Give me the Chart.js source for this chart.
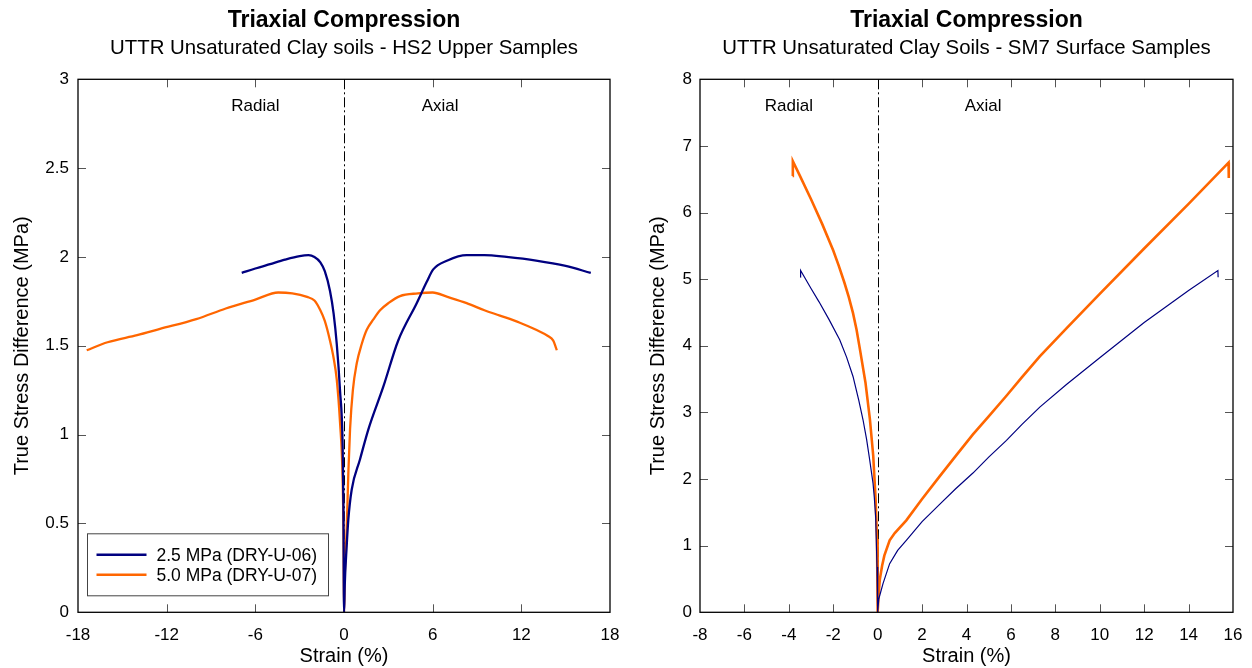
<!DOCTYPE html>
<html><head><meta charset="utf-8">
<script src="https://cdn.jsdelivr.net/npm/chart.js@4/dist/chart.umd.min.js"></script>
<style>
html,body{margin:0;padding:0;background:#fff;width:1252px;height:668px;overflow:hidden}
.box{position:absolute;top:0;width:626px;height:668px}
</style></head><body>
<div class="box" style="left:0"><canvas id="c1" width="626" height="668"></canvas></div>
<div class="box" style="left:626px"><canvas id="c2" width="626" height="668"></canvas></div>
<script>
// ---------- Data: HS2 Upper Samples (left) ----------
const hs2Label25 = '2.5 MPa (DRY-U-06)';
const hs2Label50 = '5.0 MPa (DRY-U-07)';
const hs2RadialStrain25 = [-6.92,-6,-5,-4,-3,-2.4,-2.0,-1.6,-1.3,-0.95,-0.7,-0.49,-0.27,-0.09,-0.04,0];
const hs2RadialStress25 = [1.91,1.935,1.96,1.985,2.005,2.01,2.0,1.97,1.92,1.81,1.68,1.51,1.25,0.93,0.6,0];
const hs2AxialStrain25 = [0.01,0.05,0.18,0.29,0.52,1.08,1.65,2.66,3.67,4.92,5.6,6.04,7.0,8.3,9.5,11,13,15,16.7];
const hs2AxialStress25 = [0,0.15,0.37,0.52,0.69,0.86,1.03,1.27,1.53,1.74,1.86,1.93,1.98,2.01,2.01,2.0,1.98,1.95,1.91];
const hs2RadialStrain50 = [-17.41,-16,-14,-12.45,-10,-8,-6,-4.45,-3.5,-2.5,-2.0,-1.6,-1.3,-0.95,-0.7,-0.49,-0.27,-0.09,-0.03,0];
const hs2RadialStress50 = [1.475,1.52,1.56,1.595,1.65,1.71,1.76,1.80,1.795,1.775,1.755,1.7,1.64,1.53,1.43,1.31,1.07,0.74,0.4,0];
const hs2AxialStrain50 = [0.01,0.05,0.18,0.3,0.41,0.6,0.86,1.2,1.54,2.0,2.44,3.0,3.79,5,6.0,7,8.3,9.5,10.55,11.9,13.0,13.8,14.15,14.3,14.4];
const hs2AxialStress50 = [0,0.2,0.46,0.8,1.03,1.25,1.40,1.51,1.59,1.65,1.70,1.74,1.78,1.795,1.80,1.775,1.74,1.70,1.67,1.63,1.59,1.555,1.53,1.50,1.475];
const hs2XTicks = [-18,-12,-6,0,6,12,18];
const hs2YTicks = [0,0.5,1,1.5,2,2.5,3];

// ---------- Data: SM7 Surface Samples (right) ----------
const sm7RadialStrain25 = [-3.48,-3.47,-3.0,-2.64,-2.2,-1.71,-1.4,-1.11,-0.85,-0.66,-0.5,-0.36,-0.21,-0.15,-0.09,-0.03,0];
const sm7RadialStress25 = [5.03,5.13,4.86,4.66,4.40,4.09,3.83,3.54,3.18,2.89,2.6,2.29,1.94,1.72,1.43,0.68,0];
const sm7AxialStrain25 = [0,0.05,0.24,0.54,0.9,1.29,2.0,2.79,3.5,4.29,5.0,5.8,6.5,7.3,8.5,10,12,14,15.32,15.33];
const sm7AxialStress25 = [0,0.2,0.43,0.73,0.93,1.08,1.36,1.62,1.85,2.09,2.33,2.58,2.82,3.08,3.42,3.82,4.35,4.83,5.13,5.03];
const sm7RadialStrain50 = [-3.83,-3.82,-3.5,-3.0,-2.5,-2.0,-1.75,-1.5,-1.3,-1.11,-0.95,-0.8,-0.55,-0.35,-0.2,-0.09,-0.03,0];
const sm7RadialStress50 = [6.55,6.77,6.55,6.2,5.83,5.43,5.2,4.95,4.73,4.49,4.24,3.95,3.45,2.9,2.35,1.68,1.1,0];
const sm7AxialStrain50 = [0,0.05,0.1,0.2,0.3,0.54,0.77,1.29,2.0,2.79,3.5,4.29,5.0,5.8,6.5,7.3,8.5,10,12,14,15.8,15.81];
const sm7AxialStress50 = [0,0.3,0.5,0.7,0.85,1.08,1.19,1.38,1.70,2.04,2.34,2.67,2.94,3.25,3.53,3.84,4.26,4.78,5.46,6.13,6.75,6.52];
const sm7XTicks = [-8,-6,-4,-2,0,2,4,6,8,10,12,14,16];
const sm7YTicks = [0,1,2,3,4,5,6,7,8];

const NAVY = '#000080';
const ORANGE = '#ff6600';
Chart.defaults.font.family = "'Liberation Sans', Arial, sans-serif";
Chart.defaults.color = '#000';

function pts(xs, ys){ return xs.map((x,i)=>({x:x, y:ys[i]})); }

const framePlugin = {
  id: 'frame',
  beforeDatasetsDraw(chart, args, o){
    const {ctx, chartArea:a} = chart; const x = chart.scales.x;
    const px = Math.round(x.getPixelForValue(0)) + 0.5;
    ctx.save(); ctx.strokeStyle = '#000'; ctx.lineWidth = 1; ctx.setLineDash([10,3,2,3]);
    ctx.beginPath(); ctx.moveTo(px, a.top); ctx.lineTo(px, a.bottom); ctx.stroke(); ctx.restore();
  },
  afterDatasetsDraw(chart, args, o){
    const {ctx, chartArea:a} = chart; const x = chart.scales.x, y = chart.scales.y;
    ctx.save();
    ctx.strokeStyle = '#555'; ctx.lineWidth = 1; const L = 8;
    ctx.beginPath();
    x.ticks.forEach(t=>{
      if (t.value === x.min || t.value === x.max || t.value === 0) return;
      const p = Math.round(x.getPixelForValue(t.value)) + 0.5;
      ctx.moveTo(p, a.bottom); ctx.lineTo(p, a.bottom - L);
      ctx.moveTo(p, a.top); ctx.lineTo(p, a.top + L);
    });
    y.ticks.forEach(t=>{
      if (t.value === y.min || t.value === y.max) return;
      const p = Math.round(y.getPixelForValue(t.value)) + 0.5;
      ctx.moveTo(a.left, p); ctx.lineTo(a.left + L, p);
      ctx.moveTo(a.right, p); ctx.lineTo(a.right - L, p);
    });
    ctx.stroke();
    ctx.strokeStyle = '#000'; ctx.lineWidth = 1.3;
    ctx.strokeRect(a.left, a.top, a.right - a.left, a.bottom - a.top);
    // annotations
    ctx.fillStyle = '#000'; ctx.font = "17px 'Liberation Sans', Arial, sans-serif";
    ctx.textAlign = 'center'; ctx.textBaseline = 'middle';
    (o.notes||[]).forEach(n=>{ ctx.fillText(n.text, x.getPixelForValue(n.x), y.getPixelForValue(n.y)); });
    // titles centred over plot area
    const cx = (a.left + a.right) / 2;
    ctx.font = "bold 23px 'Liberation Sans', Arial, sans-serif";
    ctx.fillText(o.title, cx, 21);
    ctx.font = "20.4px 'Liberation Sans', Arial, sans-serif";
    ctx.fillText(o.subtitle, cx, 48);
    // legend inside plot area
    if (o.legend) {
      const bx = a.left + 9.5, by = a.bottom - 78.5, bw = 241, bh = 62;
      ctx.fillStyle = '#fff'; ctx.fillRect(bx, by, bw, bh);
      ctx.strokeStyle = '#444'; ctx.lineWidth = 1; ctx.strokeRect(bx, by, bw, bh);
      ctx.textAlign = 'left'; ctx.font = "17.5px 'Liberation Sans', Arial, sans-serif";
      chart.data.datasets.forEach((d,i)=>{
        const ly = by + 21 + i*20;
        ctx.strokeStyle = d.borderColor; ctx.lineWidth = 2.5;
        ctx.beginPath(); ctx.moveTo(bx + 9, ly); ctx.lineTo(bx + 59, ly); ctx.stroke();
        ctx.fillStyle = '#000'; ctx.fillText(d.label, bx + 69, ly + 1);
      });
    }
    ctx.restore();
  }
};

function makeChart(id, cfg){
  const tickFont = {size:17};
  return new Chart(document.getElementById(id), {
    type: 'scatter',
    data: { datasets: cfg.datasets },
    options: {
      responsive: false, animation: false, events: [],
      layout: { padding: { top: 79.3, right: cfg.padRight, left: 0, bottom: 0 } },
      plugins: { legend: {display:false}, tooltip: {enabled:false}, title:{display:false},
        frame: { notes: cfg.notes, title: 'Triaxial Compression', subtitle: cfg.subtitle, legend: cfg.legend } },
      scales: {
        x: { type:'linear', min: cfg.xTicks[0], max: cfg.xTicks[cfg.xTicks.length-1],
          afterBuildTicks: s => { s.ticks = cfg.xTicks.map(v=>({value:v})); },
          ticks: { font: tickFont, color:'#000', padding: 13, maxRotation:0, autoSkip:false, callback: v => String(v) },
          grid: { display:false, drawTicks:false }, border: { display:false },
          title: { display:true, text:'Strain (%)', font:{size:20}, color:'#000', padding:{top:0,bottom:0} },
          afterFit: s => { s.height = 668 - 612.3; s.paddingLeft = 0; s.paddingRight = 0; } },
        y: { type:'linear', min: cfg.yTicks[0], max: cfg.yTicks[cfg.yTicks.length-1],
          afterBuildTicks: s => { s.ticks = cfg.yTicks.map(v=>({value:v})); },
          ticks: { font: tickFont, color:'#000', padding: cfg.yPad, autoSkip:false, callback: v => String(v) },
          grid: { display:false, drawTicks:false }, border: { display:false },
          title: { display:true, text:'True Stress Difference (MPa)', font:{size:20}, color:'#000', padding:{top:cfg.yTitlePad, bottom:0} },
          afterFit: s => { s.width = cfg.left; s.paddingTop = 0; s.paddingBottom = 0; } }
      }
    },
    plugins: [framePlugin]
  });
}

const smoothStyle = { showLine:true, pointRadius:0, cubicInterpolationMode:'monotone' };
const straightStyle = { showLine:true, pointRadius:0, tension:0 };

makeChart('c1', {
  datasets: [
    Object.assign({ label: hs2Label25, data: pts(hs2RadialStrain25.concat(hs2AxialStrain25), hs2RadialStress25.concat(hs2AxialStress25)),
      borderColor: NAVY, borderWidth: 2.3 }, smoothStyle),
    Object.assign({ label: hs2Label50, data: pts(hs2RadialStrain50.concat(hs2AxialStrain50), hs2RadialStress50.concat(hs2AxialStress50)),
      borderColor: ORANGE, borderWidth: 2.3 }, smoothStyle)
  ],
  xTicks: hs2XTicks, yTicks: hs2YTicks, left: 78, padRight: 16, yPad: 9, yTitlePad: 10,
  subtitle: 'UTTR Unsaturated Clay soils - HS2 Upper Samples',
  notes: [{text:'Radial', x:-6, y:2.85}, {text:'Axial', x:6.5, y:2.85}],
  legend: true
});

makeChart('c2', {
  datasets: [
    Object.assign({ label: hs2Label25, data: pts(sm7RadialStrain25.concat(sm7AxialStrain25), sm7RadialStress25.concat(sm7AxialStress25)),
      borderColor: NAVY, borderWidth: 1.2 }, straightStyle),
    Object.assign({ label: hs2Label50, data: pts(sm7RadialStrain50.concat(sm7AxialStrain50), sm7RadialStress50.concat(sm7AxialStress50)),
      borderColor: ORANGE, borderWidth: 2.6 }, straightStyle)
  ],
  xTicks: sm7XTicks, yTicks: sm7YTicks, left: 74, padRight: 19, yPad: 8, yTitlePad: 20,
  subtitle: 'UTTR Unsaturated Clay Soils - SM7 Surface Samples',
  notes: [{text:'Radial', x:-4, y:7.6}, {text:'Axial', x:4.75, y:7.6}],
  legend: false
});
</script>
</body></html>
